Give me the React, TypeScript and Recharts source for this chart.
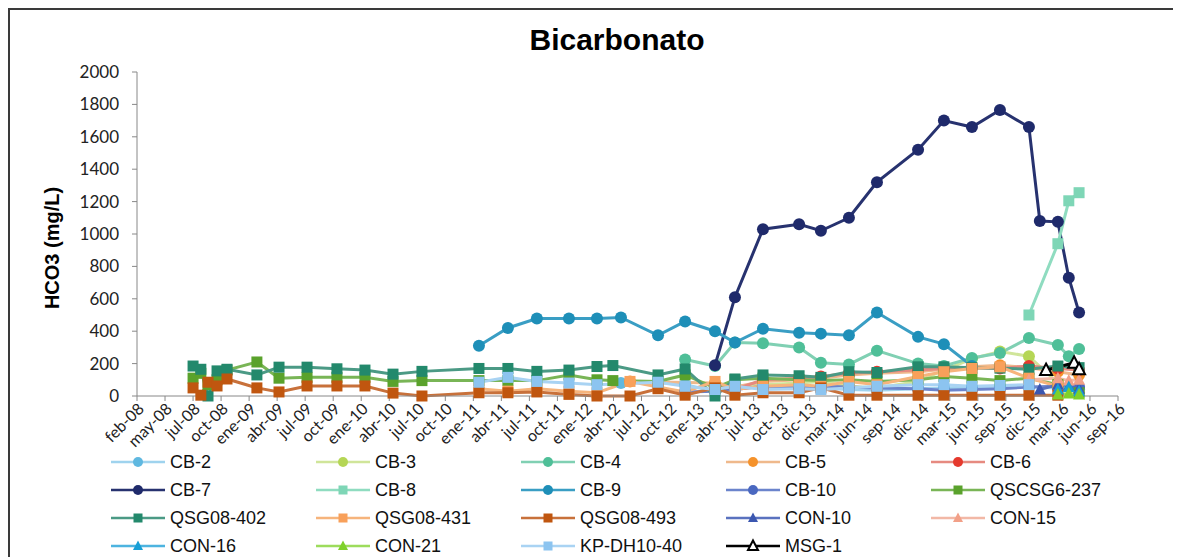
import React from "react";
import { Line, LineChart, XAxis, YAxis } from "recharts";

const DAY = 86400000;
const T0 = Date.UTC(2008, 1, 1);
const T1 = T0 + 3150 * DAY;

const tickLabels = [
  "feb-08", "may-08", "jul-08", "oct-08", "ene-09", "abr-09", "jul-09", "oct-09",
  "ene-10", "abr-10", "jul-10", "oct-10", "ene-11", "abr-11", "jul-11", "oct-11",
  "ene-12", "abr-12", "jul-12", "oct-12", "ene-13", "abr-13", "jul-13", "oct-13",
  "dic-13", "mar-14", "jun-14", "sep-14", "dic-14", "mar-15", "jun-15", "sep-15",
  "dic-15", "mar-16", "jun-16", "sep-16",
];
const xTicks = tickLabels.map((_, i) => T0 + i * 90 * DAY);
const yTicks = [0, 200, 400, 600, 800, 1000, 1200, 1400, 1600, 1800, 2000];

type Pair = [string, number];

const cb2: Pair[] = [
  ["2012-05-04", 80], ["2012-08-31", 85], ["2012-11-26", 70], ["2013-03-02", 30],
  ["2013-05-05", 50], ["2013-08-03", 60], ["2013-11-27", 55], ["2014-02-05", 50],
  ["2014-05-06", 40], ["2014-08-04", 35], ["2014-12-14", 45], ["2015-03-07", 50],
  ["2015-06-05", 55], ["2015-09-03", 60], ["2015-12-05", 55], ["2016-03-07", 50],
  ["2016-05-14", 40],
];
const cb3: Pair[] = [
  ["2013-03-02", 80], ["2013-05-05", 60], ["2013-08-03", 70], ["2013-11-27", 80],
  ["2014-02-05", 90], ["2014-05-06", 60], ["2014-08-04", 50], ["2014-12-14", 90],
  ["2015-03-07", 160], ["2015-06-05", 230], ["2015-09-03", 275], ["2015-12-05", 245],
  ["2016-03-07", 80], ["2016-05-14", 20],
];
const cb4: Pair[] = [
  ["2012-11-26", 225], ["2013-03-02", 185], ["2013-05-05", 330], ["2013-08-03", 325],
  ["2013-11-27", 300], ["2014-02-05", 205], ["2014-05-06", 195], ["2014-08-04", 280],
  ["2014-12-14", 200], ["2015-03-07", 185], ["2015-06-05", 235], ["2015-09-03", 265],
  ["2015-12-05", 358], ["2016-03-07", 315], ["2016-04-11", 245], ["2016-05-14", 290],
];
const cb5: Pair[] = [
  ["2012-06-02", 90], ["2013-03-02", 80], ["2013-05-05", 55], ["2013-08-03", 90],
  ["2013-11-27", 100], ["2014-02-05", 110], ["2014-05-06", 130], ["2014-08-04", 140],
  ["2014-12-14", 150], ["2015-03-07", 165], ["2015-06-05", 180], ["2015-09-03", 190],
  ["2015-12-05", 175], ["2016-03-07", 150], ["2016-05-14", 130],
];
const cb6: Pair[] = [
  ["2013-03-02", 60], ["2013-05-05", 40], ["2013-08-03", 100], ["2013-11-27", 110],
  ["2014-02-05", 120], ["2014-05-06", 140], ["2014-08-04", 150], ["2014-12-14", 160],
  ["2015-03-07", 170], ["2015-06-05", 175], ["2015-09-03", 170], ["2015-12-05", 185],
  ["2016-03-07", 170], ["2016-05-14", 160],
];
const cb7: Pair[] = [
  ["2013-03-02", 190], ["2013-05-05", 610], ["2013-08-03", 1030], ["2013-11-27", 1060],
  ["2014-02-05", 1020], ["2014-05-06", 1100], ["2014-08-04", 1320], ["2014-12-14", 1520],
  ["2015-03-07", 1700], ["2015-06-05", 1660], ["2015-09-03", 1765], ["2015-12-05", 1660],
  ["2016-01-09", 1080], ["2016-03-07", 1075], ["2016-04-11", 730], ["2016-05-14", 515],
];
const cb8: Pair[] = [
  ["2015-12-05", 500], ["2016-03-07", 940], ["2016-04-11", 1205], ["2016-05-14", 1255],
];
const cb9: Pair[] = [
  ["2011-02-03", 310], ["2011-05-07", 420], ["2011-08-08", 478], ["2011-11-19", 478],
  ["2012-02-17", 478], ["2012-05-04", 485], ["2012-08-31", 375], ["2012-11-26", 460],
  ["2013-03-02", 400], ["2013-05-05", 330], ["2013-08-03", 415], ["2013-11-27", 390],
  ["2014-02-05", 385], ["2014-05-06", 375], ["2014-08-04", 515], ["2014-12-14", 365],
  ["2015-03-07", 320], ["2015-06-05", 185],
];
const cb10: Pair[] = [
  ["2012-11-26", 25], ["2013-03-02", 30], ["2013-05-05", 40], ["2013-08-03", 60],
  ["2013-11-27", 50], ["2014-02-05", 60], ["2014-05-06", 55], ["2014-08-04", 50],
  ["2014-12-14", 45], ["2015-03-07", 35], ["2015-06-05", 40], ["2015-09-03", 45],
  ["2015-12-05", 55], ["2016-03-07", 60], ["2016-05-14", 55],
];
const qscsg6237: Pair[] = [
  ["2008-07-30", 110], ["2008-08-24", 140], ["2008-09-16", 70], ["2008-10-15", 100],
  ["2008-11-16", 160], ["2009-02-20", 210], ["2009-05-02", 110], ["2009-07-31", 115],
  ["2009-11-04", 115], ["2010-02-02", 115], ["2010-05-03", 90], ["2010-08-04", 95],
  ["2011-02-03", 95], ["2011-05-07", 95], ["2011-08-08", 95], ["2011-11-19", 130],
  ["2012-02-17", 100], ["2012-04-08", 95], ["2012-08-31", 90], ["2012-11-26", 130],
  ["2013-03-02", 50], ["2013-05-05", 100], ["2013-08-03", 110], ["2013-11-27", 100],
  ["2014-02-05", 95], ["2014-05-06", 100], ["2014-08-04", 90], ["2014-12-14", 100],
  ["2015-03-07", 120], ["2015-06-05", 110], ["2015-09-03", 95], ["2015-12-05", 110],
  ["2016-03-07", 70], ["2016-05-14", 20],
];
const qsg08402: Pair[] = [
  ["2008-07-30", 185], ["2008-08-24", 165], ["2008-09-16", 0], ["2008-10-15", 155],
  ["2008-11-16", 165], ["2009-02-20", 130], ["2009-05-02", 178], ["2009-07-31", 178],
  ["2009-11-04", 168], ["2010-02-02", 160], ["2010-05-03", 135], ["2010-08-04", 152],
  ["2011-02-03", 170], ["2011-05-07", 170], ["2011-08-08", 152], ["2011-11-19", 160],
  ["2012-02-17", 182], ["2012-04-08", 188], ["2012-08-31", 130], ["2012-11-26", 167],
  ["2013-03-02", 0], ["2013-05-05", 105], ["2013-08-03", 130], ["2013-11-27", 125],
  ["2014-02-05", 115], ["2014-05-06", 150], ["2014-08-04", 145], ["2014-12-14", 180],
  ["2015-03-07", 180], ["2015-06-05", 175], ["2015-09-03", 172], ["2015-12-05", 165],
  ["2016-03-07", 185], ["2016-05-14", 175],
];
const qsg08431: Pair[] = [
  ["2011-02-03", 45], ["2011-05-07", 30], ["2011-08-08", 45], ["2011-11-19", 30],
  ["2012-02-17", 20], ["2012-06-02", 90], ["2012-08-31", 55], ["2012-11-26", 25],
  ["2013-03-02", 90], ["2013-05-05", 40], ["2013-08-03", 60], ["2013-11-27", 70],
  ["2014-02-05", 60], ["2014-05-06", 90], ["2014-08-04", 70], ["2014-12-14", 120],
  ["2015-03-07", 150], ["2015-06-05", 170], ["2015-09-03", 180], ["2015-12-05", 110],
  ["2016-03-07", 60],
];
const qsg08493: Pair[] = [
  ["2008-07-30", 50], ["2008-08-24", 5], ["2008-09-16", 85], ["2008-10-15", 62],
  ["2008-11-16", 105], ["2009-02-20", 50], ["2009-05-02", 25], ["2009-07-31", 62],
  ["2009-11-04", 62], ["2010-02-02", 62], ["2010-05-03", 18], ["2010-08-04", 0],
  ["2011-02-03", 20], ["2011-05-07", 20], ["2011-08-08", 25], ["2011-11-19", 10],
  ["2012-02-17", 0], ["2012-06-02", 0], ["2012-08-31", 45], ["2012-11-26", 5],
  ["2013-03-02", 50], ["2013-05-05", 5], ["2013-08-03", 20], ["2013-11-27", 20],
  ["2014-02-05", 50], ["2014-05-06", 5], ["2014-08-04", 5], ["2014-12-14", 5],
  ["2015-03-07", 5], ["2015-06-05", 5], ["2015-09-03", 5], ["2015-12-05", 5],
  ["2016-03-07", 5],
];
const con10: Pair[] = [
  ["2016-01-09", 40], ["2016-03-07", 70], ["2016-04-11", 60], ["2016-05-14", 45],
];
const con15: Pair[] = [
  ["2015-12-05", 100], ["2016-03-07", 110], ["2016-04-11", 95], ["2016-05-14", 100],
];
const con16: Pair[] = [["2016-03-07", 40], ["2016-04-11", 55], ["2016-05-14", 30]];
const con21: Pair[] = [["2016-03-07", 10], ["2016-04-11", 15], ["2016-05-14", 10]];
const kpdh1040: Pair[] = [
  ["2011-02-03", 85], ["2011-05-07", 115], ["2011-08-08", 90], ["2011-11-19", 80],
  ["2012-02-17", 70], ["2012-08-31", 85], ["2012-11-26", 60], ["2013-03-02", 40],
  ["2013-05-05", 60], ["2013-08-03", 40], ["2013-11-27", 45], ["2014-02-05", 40],
  ["2014-05-06", 50], ["2014-08-04", 60], ["2014-12-14", 70], ["2015-03-07", 70],
  ["2015-06-05", 60], ["2015-09-03", 65], ["2015-12-05", 70],
];
const msg1: Pair[] = [["2016-01-29", 160], ["2016-04-28", 205], ["2016-05-14", 165]];

type Shape = "circle" | "square" | "triangle" | "hollow";

const series: { name: string; data: Pair[]; color: string; line: string; shape: Shape }[] = [
  { name: "CB-2", data: cb2, color: "#5fb8e0", line: "#9fd3ee", shape: "circle" },
  { name: "CB-3", data: cb3, color: "#b5d655", line: "#d0e59a", shape: "circle" },
  { name: "CB-4", data: cb4, color: "#4fbf98", line: "#80d0b3", shape: "circle" },
  { name: "CB-5", data: cb5, color: "#f5922b", line: "#efb98c", shape: "circle" },
  { name: "CB-6", data: cb6, color: "#e5392d", line: "#e68a80", shape: "circle" },
  { name: "CB-7", data: cb7, color: "#1f2a6b", line: "#27326f", shape: "circle" },
  { name: "CB-8", data: cb8, color: "#7ed6b6", line: "#8fdcc0", shape: "square" },
  { name: "CB-9", data: cb9, color: "#1e8fb8", line: "#3a9ec4", shape: "circle" },
  { name: "CB-10", data: cb10, color: "#4a68c0", line: "#6b84cc", shape: "circle" },
  { name: "QSCSG6-237", data: qscsg6237, color: "#5aa22c", line: "#79b556", shape: "square" },
  { name: "QSG08-402", data: qsg08402, color: "#23896c", line: "#4b9a85", shape: "square" },
  { name: "QSG08-431", data: qsg08431, color: "#f8a05a", line: "#f6b47c", shape: "square" },
  { name: "QSG08-493", data: qsg08493, color: "#c0560f", line: "#c8713b", shape: "square" },
  { name: "CON-10", data: con10, color: "#3b57b0", line: "#5a72bf", shape: "triangle" },
  { name: "CON-15", data: con15, color: "#f2a088", line: "#f2b8a6", shape: "triangle" },
  { name: "CON-16", data: con16, color: "#179fd6", line: "#4db4e0", shape: "triangle" },
  { name: "CON-21", data: con21, color: "#7fd12a", line: "#9ddc5c", shape: "triangle" },
  { name: "KP-DH10-40", data: kpdh1040, color: "#8cc4f0", line: "#a9d3f3", shape: "square" },
  { name: "MSG-1", data: msg1, color: "#000000", line: "#000000", shape: "hollow" },
];

const toPoints = (arr: Pair[]) => arr.map(([d, v]) => ({ t: Date.parse(d), v }));

function Marker({ cx, cy, shape, color, size }: { cx: number; cy: number; shape: Shape; color: string; size: number }) {
  const h = size / 2;
  if (shape === "circle") return <circle cx={cx} cy={cy} r={h} fill={color} />;
  if (shape === "square") return <rect x={cx - h} y={cy - h} width={size} height={size} fill={color} />;
  const pts = `${cx},${cy - h - 1} ${cx + h + 0.5},${cy + h - 0.5} ${cx - h - 0.5},${cy + h - 0.5}`;
  if (shape === "hollow")
    return <polygon points={pts} fill="#fff" stroke={color} strokeWidth={2} />;
  return <polygon points={pts} fill={color} />;
}

function DateTick(props: any) {
  const { x, y, index } = props;
  const ax = x + 4;
  const ay = y + 3;
  return (
    <text
      x={ax}
      y={ay}
      dy="0.35em"
      textAnchor="end"
      transform={`rotate(-45 ${ax} ${ay})`}
      fontFamily="Lato"
      fontSize={16}
      fill="#222"
    >
      {tickLabels[index]}
    </text>
  );
}

const legendCols = [111, 316, 521, 726, 931];
const legendRows = [462, 490, 518, 546];

export default function App() {
  return (
    <div
      style={{
        position: "relative",
        width: 1164,
        height: 600,
        border: "2px solid #3a3a3a",
        background: "#fff",
        overflow: "hidden",
      }}
    >
      <LineChart width={1164} height={600} margin={{ top: 62, right: 56, bottom: 154, left: 67 }}>
        <XAxis
          type="number"
          dataKey="t"
          domain={[T0, T1]}
          ticks={xTicks}
          interval={0}
          allowDataOverflow
          tick={<DateTick />}
          tickSize={5}
          tickMargin={2}
          tickLine={{ stroke: "#888" }}
          axisLine={{ stroke: "#888" }}
          height={60}
        />
        <YAxis
          type="number"
          domain={[0, 2000]}
          ticks={yTicks}
          interval={0}
          width={60}
          tickSize={5}
          tickMargin={13}
          tick={{ fontFamily: "Lato", fontSize: 17, fill: "#222" }}
          tickLine={{ stroke: "#888" }}
          axisLine={{ stroke: "#888" }}
        />
        {series.map((s) => (
          <Line
            key={s.name}
            name={s.name}
            data={toPoints(s.data)}
            dataKey="v"
            type="linear"
            stroke={s.line}
            strokeWidth={3}
            isAnimationActive={false}
            dot={(p: any) => (
              <Marker key={`${s.name}-${p.index}`} cx={p.cx} cy={p.cy} shape={s.shape} color={s.color} size={s.shape === "circle" ? 12 : 11} />
            )}
            activeDot={false}
          />
        ))}
      </LineChart>

      <div
        style={{
          position: "absolute",
          left: 607,
          top: 30,
          transform: "translate(-50%, -50%)",
          fontFamily: "Liberation Sans",
          fontWeight: "bold",
          fontSize: 30,
          whiteSpace: "nowrap",
          color: "#000",
        }}
      >
        Bicarbonato
      </div>
      <div
        style={{
          position: "absolute",
          left: 42,
          top: 238,
          transform: "translate(-50%, -50%) rotate(-90deg)",
          fontFamily: "Liberation Sans",
          fontWeight: "bold",
          fontSize: 20,
          whiteSpace: "nowrap",
          color: "#000",
        }}
      >
        HCO3 (mg/L)
      </div>

      {series.map((s, i) => {
        const col = i % 5;
        const row = Math.floor(i / 5);
        return (
          <div
            key={s.name}
            style={{
              position: "absolute",
              left: legendCols[col] - 10,
              top: legendRows[row] - 10 - 10,
              height: 20,
              display: "flex",
              alignItems: "center",
              fontFamily: "Liberation Sans",
              fontSize: 18,
              color: "#111",
              whiteSpace: "nowrap",
            }}
          >
            <svg width={54} height={16} style={{ marginRight: 5 }}>
              <line x1={0} y1={8} x2={54} y2={8} stroke={s.line} strokeWidth={2.5} />
              <Marker cx={27} cy={8} shape={s.shape} color={s.color} size={s.shape === "circle" ? 10 : 9} />
            </svg>
            {s.name}
          </div>
        );
      })}
    </div>
  );
}
